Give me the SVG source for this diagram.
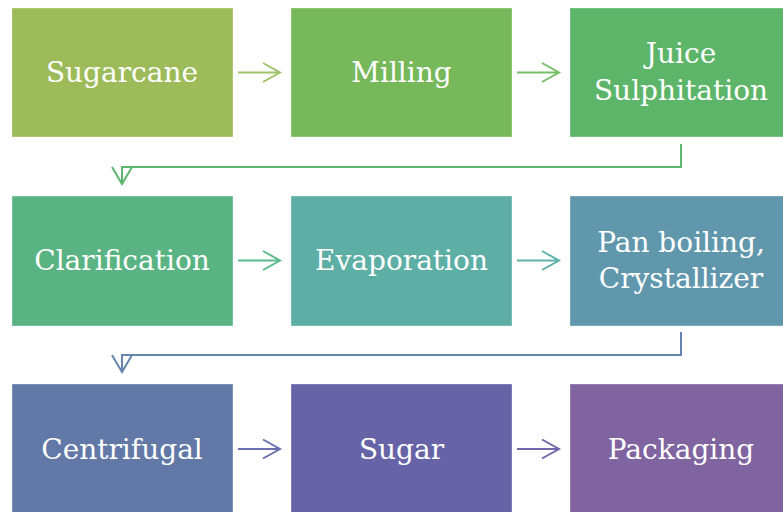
<svg xmlns="http://www.w3.org/2000/svg" width="783" height="512" viewBox="0 0 783 512">
<defs>
<style>
.box{stroke:#ffffff;stroke-opacity:0.35;stroke-width:1}
.t{font-family:'DejaVu Serif',serif;font-size:28px;fill:#ffffff;text-anchor:middle}
.c{fill:none;stroke-width:2}
</style>
</defs>
<rect width="783" height="512" fill="#ffffff"/>
<g id="connectors">
<g stroke="#9dc46a" class="c"><path d="M238,72.5H280M263,63L280,72.5L263,82"/></g>
<g stroke="#78bd68" class="c"><path d="M517,72.5H559M542,63L559,72.5L542,82"/></g>
<g stroke="#5db56e" class="c"><path d="M681,144V167H122V184M112,167L122,184L132,167"/></g>
<g stroke="#5bbb8f" class="c"><path d="M238,260.5H280M263,251L280,260.5L263,270"/></g>
<g stroke="#5fb1ab" class="c"><path d="M517,260.5H559M542,251L559,260.5L542,270"/></g>
<g stroke="#6784b0" class="c"><path d="M681,332V355H122V372M112,355L122,372L132,355"/></g>
<g stroke="#6a70b0" class="c"><path d="M238,449H280M263,439.5L280,449L263,458.5"/></g>
<g stroke="#7566ab" class="c"><path d="M517,449H559M542,439.5L559,449L542,458.5"/></g>
</g>
<g id="n1"><rect class="box" x="12" y="8" width="221" height="129" fill="#9dbb58"/><text class="t" x="122" y="82">Sugarcane</text></g>
<g id="n2"><rect class="box" x="291" y="8" width="221" height="129" fill="#77b85a"/><text class="t" x="401.5" y="82">Milling</text></g>
<g id="n3"><rect class="box" x="570" y="8" width="222" height="129" fill="#5cb569"/><text class="t" x="681" y="63">Juice</text><text class="t" x="681" y="100">Sulphitation</text></g>
<g id="n4"><rect class="box" x="12" y="196" width="221" height="130" fill="#59b383"/><text class="t" x="122" y="270">Clarification</text></g>
<g id="n5"><rect class="box" x="291" y="196" width="221" height="130" fill="#5daea5"/><text class="t" x="401.5" y="270">Evaporation</text></g>
<g id="n6"><rect class="box" x="570" y="196" width="222" height="130" fill="#6097ad"/><text class="t" x="681" y="252">Pan boiling,</text><text class="t" x="681" y="288">Crystallizer</text></g>
<g id="n7"><rect class="box" x="12" y="384" width="221" height="130" fill="#6279a8"/><text class="t" x="122" y="459">Centrifugal</text></g>
<g id="n8"><rect class="box" x="291" y="384" width="221" height="130" fill="#6663a6"/><text class="t" x="401.5" y="459">Sugar</text></g>
<g id="n9"><rect class="box" x="570" y="384" width="222" height="130" fill="#7f64a0"/><text class="t" x="681" y="459">Packaging</text></g>
</svg>
